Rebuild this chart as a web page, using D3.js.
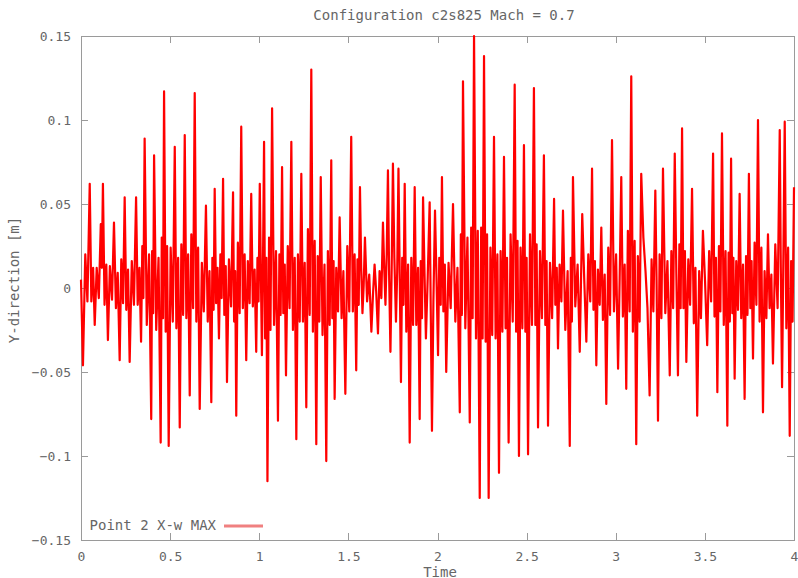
<!DOCTYPE html>
<html lang="en">
  <head>
    <meta charset="utf-8">
    <title>Configuration c2s825 Mach = 0.7</title>
    <script type="text/javascript" src="https://d3js.org/d3.v7.min.js"></script>
    <style type="text/css">
      body { margin: 0; background: #fff; }
      .axis path, .axis line { fill: none; stroke: #9a9a9a; shape-rendering: crispEdges; }
      .axis text { font-family: "DejaVu Sans Mono", monospace; font-size: 13px; fill: #666; }
      .lbl { font-family: "DejaVu Sans Mono", monospace; fill: #666; font-size: 14px; }
    </style>
  </head>
  <body>
    <script type="text/javascript">
      var w = 798, h = 578;
      var marginLeft = 81, marginRight = 4, marginTop = 36, marginDown = 38;

      var title = "Configuration c2s825 Mach = 0.7";
      var xTicks = [0, 0.5, 1, 1.5, 2, 2.5, 3, 3.5, 4];
      var yTicks = [-0.15, -0.1, -0.05, 0, 0.05, 0.1, 0.15];
      var seriesName = "Point 2 X-w MAX";

      // time samples
      var times = [
        0, 0.011, 0.024, 0.036, 0.049, 0.058, 0.068, 0.077, 0.088, 0.100,
        0.111, 0.117, 0.123, 0.132, 0.142, 0.151, 0.162, 0.174, 0.185, 0.196,
        0.206, 0.217, 0.226, 0.236, 0.245, 0.254, 0.264, 0.273, 0.285, 0.297,
        0.309, 0.318, 0.328, 0.337, 0.344, 0.350, 0.357, 0.369, 0.382, 0.394,
        0.399, 0.405, 0.410, 0.422, 0.435, 0.447, 0.453, 0.460, 0.466, 0.475,
        0.483, 0.492, 0.503, 0.515, 0.526, 0.535, 0.545, 0.554, 0.563, 0.573,
        0.582, 0.591, 0.601, 0.610, 0.619, 0.629, 0.638, 0.647, 0.657, 0.666,
        0.678, 0.689, 0.701, 0.711, 0.721, 0.731, 0.737, 0.744, 0.750, 0.758,
        0.766, 0.774, 0.782, 0.789, 0.797, 0.804, 0.812, 0.819, 0.830, 0.842,
        0.853, 0.859, 0.865, 0.871, 0.880, 0.890, 0.899, 0.908, 0.918, 0.927,
        0.936, 0.946, 0.955, 0.964, 0.974, 0.983, 0.990, 0.996, 1.003, 1.009,
        1.015, 1.021, 1.027, 1.033, 1.040, 1.046, 1.055, 1.063, 1.072, 1.083,
        1.094, 1.105, 1.113, 1.120, 1.128, 1.135, 1.143, 1.150, 1.160, 1.170,
        1.180, 1.189, 1.199, 1.208, 1.217, 1.227, 1.236, 1.245, 1.255, 1.264,
        1.273, 1.283, 1.292, 1.301, 1.311, 1.320, 1.328, 1.337, 1.345, 1.355,
        1.366, 1.376, 1.385, 1.395, 1.404, 1.410, 1.417, 1.423, 1.432, 1.442,
        1.451, 1.462, 1.472, 1.483, 1.494, 1.505, 1.516, 1.525, 1.535, 1.544,
        1.551, 1.558, 1.565, 1.572, 1.579, 1.586, 1.593, 1.605, 1.617, 1.629,
        1.638, 1.647, 1.656, 1.666, 1.675, 1.685, 1.694, 1.701, 1.708, 1.715,
        1.722, 1.729, 1.736, 1.743, 1.750, 1.758, 1.767, 1.774, 1.781, 1.788,
        1.795, 1.802, 1.809, 1.816, 1.825, 1.835, 1.844, 1.853, 1.863, 1.872,
        1.881, 1.891, 1.900, 1.906, 1.913, 1.919, 1.927, 1.935, 1.945, 1.956,
        1.962, 1.969, 1.977, 1.986, 1.994, 2.003, 2.010, 2.018, 2.025, 2.033,
        2.041, 2.049, 2.062, 2.074, 2.087, 2.100, 2.112, 2.125, 2.131, 2.137,
        2.143, 2.156, 2.168, 2.181, 2.189, 2.197, 2.205, 2.216, 2.226, 2.237,
        2.245, 2.253, 2.261, 2.270, 2.278, 2.287, 2.297, 2.307, 2.317, 2.326,
        2.336, 2.345, 2.354, 2.364, 2.373, 2.382, 2.390, 2.399, 2.410, 2.422,
        2.433, 2.441, 2.449, 2.457, 2.466, 2.476, 2.485, 2.493, 2.500, 2.508,
        2.519, 2.530, 2.541, 2.549, 2.556, 2.564, 2.575, 2.586, 2.597, 2.605,
        2.612, 2.620, 2.631, 2.643, 2.654, 2.661, 2.669, 2.676, 2.685, 2.695,
        2.704, 2.717, 2.730, 2.742, 2.748, 2.754, 2.760, 2.773, 2.786, 2.798,
        2.805, 2.812, 2.823, 2.835, 2.846, 2.857, 2.867, 2.875, 2.883, 2.891,
        2.900, 2.910, 2.919, 2.928, 2.938, 2.947, 2.958, 2.968, 2.979, 2.990,
        3.002, 3.013, 3.022, 3.031, 3.040, 3.050, 3.059, 3.068, 3.078, 3.087,
        3.096, 3.106, 3.115, 3.124, 3.134, 3.143, 3.155, 3.167, 3.178, 3.190,
        3.201, 3.211, 3.222, 3.229, 3.237, 3.246, 3.256, 3.265, 3.278, 3.290,
        3.303, 3.312, 3.322, 3.331, 3.340, 3.349, 3.357, 3.364, 3.372, 3.380,
        3.388, 3.396, 3.407, 3.417, 3.428, 3.438, 3.447, 3.457, 3.468, 3.478,
        3.489, 3.501, 3.513, 3.524, 3.535, 3.546, 3.554, 3.562, 3.570, 3.579,
        3.587, 3.596, 3.606, 3.616, 3.626, 3.633, 3.640, 3.647, 3.654, 3.660,
        3.667, 3.676, 3.686, 3.695, 3.704, 3.714, 3.723, 3.731, 3.739, 3.747,
        3.755, 3.762, 3.770, 3.779, 3.789, 3.798, 3.807, 3.817, 3.826, 3.835,
        3.845, 3.854, 3.863, 3.873, 3.882, 3.895, 3.908, 3.920, 3.926, 3.933,
        3.940, 3.948, 3.957, 3.967, 3.976, 3.984, 3.992, 4.000];

      // Y-direction displacement [m]
      var yDir = [
        0.005, -0.046, 0.020, -0.008, 0.062, -0.008, 0.012, -0.022, 0.012, -0.006,
        0.038, 0.012, 0.062, -0.010, 0.014, -0.031, 0.013, -0.007, 0.039, -0.012,
        0.009, -0.043, 0.017, -0.009, 0.054, -0.013, 0.011, -0.044, 0.016, -0.010,
        0.054, -0.010, 0.012, -0.032, 0.025, -0.006, 0.089, -0.022, 0.020, -0.078,
        0.022, -0.015, 0.079, -0.025, 0.018, -0.092, 0.030, -0.018, 0.117, -0.026,
        0.025, -0.094, 0.024, -0.020, 0.084, -0.024, 0.018, -0.083, 0.026, -0.016,
        0.091, -0.018, 0.020, -0.064, 0.032, -0.012, 0.116, -0.020, 0.024, -0.072,
        0.015, -0.014, 0.049, -0.020, 0.010, -0.068, 0.018, -0.013, 0.059, -0.009,
        0.012, -0.030, 0.020, -0.006, 0.065, -0.016, 0.013, -0.056, 0.017, -0.011,
        0.057, -0.020, 0.010, -0.076, 0.027, -0.015, 0.096, -0.012, 0.020, -0.043,
        0.016, -0.009, 0.056, -0.011, 0.011, -0.038, 0.018, -0.008, 0.062, 0.010,
        -0.040, 0.015, 0.087, -0.030, 0.018, -0.115, 0.030, -0.025, 0.107, -0.022,
        0.022, -0.079, 0.020, -0.016, 0.072, -0.015, 0.014, -0.052, 0.025, -0.012,
        0.087, -0.025, 0.018, -0.090, 0.020, -0.020, 0.068, -0.020, 0.015, -0.071,
        0.035, -0.016, 0.130, -0.026, 0.028, -0.093, 0.019, -0.020, 0.066, -0.028,
        0.014, -0.103, 0.022, -0.022, 0.076, -0.018, 0.016, -0.066, 0.012, -0.014,
        0.042, -0.018, 0.010, -0.063, 0.025, -0.014, 0.090, -0.014, 0.020, -0.049,
        0.017, -0.010, 0.060, 0.012, -0.015, 0.002, 0.030, -0.008, 0.008, -0.026,
        -0.004, 0.014, -0.002, -0.027, 0.010, -0.006, 0.039, 0.012, -0.010, 0.020,
        0.070, 0.005, -0.038, 0.012, 0.074, 0.018, -0.020, 0.010, 0.071, 0.008,
        -0.056, 0.018, -0.010, 0.062, -0.026, 0.014, -0.092, 0.018, -0.022, 0.060,
        -0.022, 0.012, -0.078, 0.016, -0.018, 0.054, 0.010, -0.030, 0.006, 0.051,
        -0.012, -0.085, -0.008, 0.046, 0.008, -0.040, 0.018, -0.010, 0.066, -0.014,
        0.014, -0.050, 0.015, -0.012, 0.050, -0.020, 0.012, -0.074, 0.032, -0.016,
        0.123, -0.024, 0.030, -0.080, 0.036, -0.018, 0.150, -0.030, 0.034, -0.125,
        0.036, -0.030, 0.138, -0.032, 0.032, -0.125, 0.024, -0.028, 0.090, -0.030,
        0.020, -0.110, 0.022, -0.026, 0.078, -0.024, 0.018, -0.092, 0.032, -0.020,
        0.121, -0.026, 0.028, -0.100, 0.024, -0.024, 0.085, -0.026, 0.018, -0.099,
        0.032, -0.022, 0.119, -0.022, 0.026, -0.083, 0.022, -0.018, 0.079, -0.022,
        0.016, -0.082, 0.015, -0.018, 0.053, -0.010, 0.012, -0.036, 0.014, -0.008,
        0.046, -0.025, 0.010, -0.094, 0.018, -0.020, 0.066, -0.011, 0.014, -0.038,
        0.004, 0.044, 0.006, -0.032, 0.020, -0.008, 0.071, -0.013, 0.016, -0.046,
        0.011, -0.010, 0.036, -0.019, 0.008, -0.069, 0.024, -0.016, 0.088, -0.014,
        0.020, -0.048, 0.006, 0.066, -0.017, 0.014, -0.060, 0.034, -0.014, 0.126,
        -0.026, 0.028, -0.093, 0.019, -0.020, 0.068, 0.030, 0.010, -0.012, -0.064,
        0.017, -0.014, 0.058, 0.004, -0.079, 0.020, -0.018, 0.071, -0.015, 0.016,
        -0.052, 0.022, -0.012, 0.080, 0.008, -0.052, 0.026, -0.012, 0.095, -0.012,
        0.022, -0.044, 0.017, -0.010, 0.059, -0.021, 0.012, -0.076, 0.010, -0.018,
        0.034, 0.004, -0.034, 0.022, -0.008, 0.080, -0.017, 0.018, -0.062, 0.025,
        -0.014, 0.092, -0.022, 0.022, -0.082, 0.021, -0.020, 0.077, -0.015, 0.018,
        -0.054, 0.016, -0.013, 0.056, -0.018, 0.014, -0.066, 0.019, -0.016, 0.068,
        -0.012, 0.016, -0.042, 0.027, -0.010, 0.100, -0.020, 0.024, -0.074, 0.010,
        -0.018, 0.032, -0.012, 0.008, -0.045, 0.026, -0.012, 0.094, 0.012, -0.059,
        0.015, 0.099, -0.024, 0.024, -0.088, 0.016, -0.020, 0.060];

      var data = times.map(function(t, i) { return {t: t, v: yDir[i]}; });

      var svg = d3.select("body").append("svg").attr("width", w).attr("height", h);

      var xScale = d3.scaleLinear().domain([0, 4]).range([marginLeft, w - marginRight]);
      var yScale = d3.scaleLinear().domain([-0.15, 0.15]).range([h - marginDown, marginTop]);

      var fmt = function(d) { return d3.format("")(+d.toFixed(2)); };

      // bottom / left axes with inward ticks, mirrored on top / right
      svg.append("g").attr("class", "axis")
        .attr("transform", "translate(0," + (h - marginDown) + ")")
        .call(d3.axisBottom(xScale).tickValues(xTicks).tickSize(-7).tickPadding(12).tickFormat(fmt));
      svg.append("g").attr("class", "axis")
        .attr("transform", "translate(0," + marginTop + ")")
        .call(d3.axisTop(xScale).tickValues(xTicks).tickSize(-7).tickFormat(""));
      svg.append("g").attr("class", "axis")
        .attr("transform", "translate(" + marginLeft + ",0)")
        .call(d3.axisLeft(yScale).tickValues(yTicks).tickSize(-7).tickPadding(10).tickFormat(fmt));
      svg.append("g").attr("class", "axis")
        .attr("transform", "translate(" + (w - marginRight) + ",0)")
        .call(d3.axisRight(yScale).tickValues(yTicks).tickSize(-7).tickFormat(""));

      var line = d3.line()
        .defined(function(d) { return d.v !== undefined; })
        .x(function(d) { return xScale(d.t); })
        .y(function(d) { return yScale(d.v); });

      svg.append("path").datum(data)
        .attr("d", line)
        .attr("fill", "none")
        .attr("stroke", "#ff0000")
        .attr("stroke-width", 2.2)
        .attr("stroke-linejoin", "round");

      // title and axis labels
      svg.append("text").attr("class", "lbl").attr("x", 444).attr("y", 20)
        .attr("text-anchor", "middle").text(title);
      svg.append("text").attr("class", "lbl").attr("x", 440).attr("y", 577)
        .attr("text-anchor", "middle").text("Time");
      svg.append("text").attr("class", "lbl")
        .attr("transform", "translate(19,280) rotate(-90)")
        .attr("text-anchor", "middle").text("Y-direction [m]");

      // legend
      svg.append("text").attr("class", "lbl").attr("x", 216).attr("y", 530)
        .attr("text-anchor", "end").text(seriesName);
      svg.append("line").attr("x1", 224).attr("x2", 263).attr("y1", 526).attr("y2", 526)
        .attr("stroke", "#f08080").attr("stroke-width", 3);
    </script>
  </body>
</html>
